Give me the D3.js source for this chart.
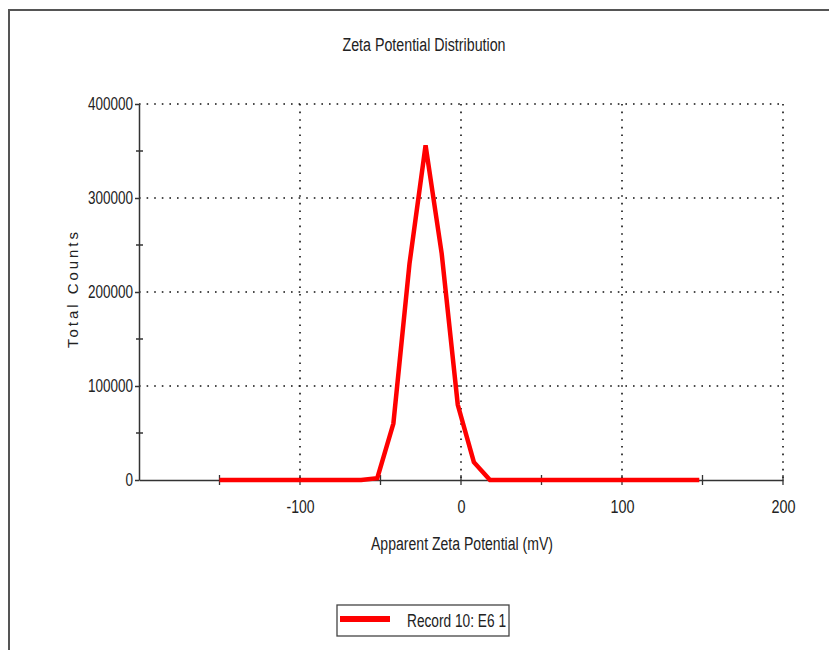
<!DOCTYPE html>
<html>
<head>
<meta charset="utf-8">
<script src="https://cdnjs.cloudflare.com/ajax/libs/d3/7.8.5/d3.min.js"></script>
<style>
  body { margin: 0; background: #fff; }
  svg { display: block; }
  text { font-family: "Liberation Sans", Arial, sans-serif; fill: #222; }
</style>
</head>
<body>
<svg id="chart" width="829" height="650"></svg>
<script>
// data
var potential = [-150, -62, -52, -42, -32, -22, -12, -2, 8, 18, 148];
var counts    = [0, 0, 2000, 60000, 230000, 356000, 241000, 80000, 19000, 0, 0];
var xTicks = [-100, 0, 100, 200];
var xMinor = [-150, -100, -50, 0, 50, 100, 150, 200];
var yTicks = [0, 100000, 200000, 300000, 400000];
var yMinor = [50000, 150000, 250000, 350000];
var seriesName = "Record 10: E6 1";

var svg = d3.select("#chart");
var x = d3.scaleLinear().domain([-200, 200]).range([139, 783]);
var y = d3.scaleLinear().domain([0, 400000]).range([480, 104]);

// the original font is a tall narrow one, squeeze Liberation Sans to fit
function labelWidth(s, digit) {
  var w = 0;
  for (var i = 0; i < s.length; i++) w += s[i] === "-" ? digit * 0.5 : digit;
  return w;
}
function fmt(d) { return String(d); }

// outer frame
svg.append("path")
  .attr("d", "M9,650 V10 H829")
  .attr("fill", "none").attr("stroke", "#555").attr("stroke-width", 2);

// title
svg.append("text").attr("x", 424).attr("y", 51).attr("text-anchor", "middle")
  .attr("font-size", 18).attr("textLength", 163).attr("lengthAdjust", "spacingAndGlyphs")
  .text("Zeta Potential Distribution");

// dotted grid
var grid = svg.append("g").attr("stroke", "#111").attr("stroke-width", 1.6).attr("stroke-dasharray", "1.6,6");
grid.selectAll(".gy").data(yTicks.filter(function(d){ return d > 0; })).enter().append("line")
  .attr("x1", x(-200)).attr("x2", x(200))
  .attr("y1", function(d){ return y(d); }).attr("y2", function(d){ return y(d); });
grid.selectAll(".gx").data(xTicks).enter().append("line")
  .attr("x1", function(d){ return x(d); }).attr("x2", function(d){ return x(d); })
  .attr("y1", y(400000)).attr("y2", y(0));

// y axis
var yAxis = svg.append("g").attr("transform", "translate(" + x(-200) + ",0)")
  .call(d3.axisLeft(y).tickValues(yTicks).tickSize(4).tickSizeOuter(0).tickPadding(2).tickFormat(fmt));
yAxis.select(".domain").attr("stroke", "#333").attr("stroke-width", 1.5);
yAxis.selectAll(".tick line").attr("stroke", "#333").attr("stroke-width", 1.5);
yAxis.selectAll(".tick text").attr("font-size", 18).attr("fill", "#222")
  .attr("textLength", function(d){ return labelWidth(fmt(d), 7.5); })
  .attr("lengthAdjust", "spacingAndGlyphs");
svg.append("g").selectAll("line").data(yMinor).enter().append("line")
  .attr("x1", x(-200) - 3).attr("x2", x(-200) + 4)
  .attr("y1", function(d){ return y(d); }).attr("y2", function(d){ return y(d); })
  .attr("stroke", "#333").attr("stroke-width", 1.5);

// x axis
var xAxis = svg.append("g").attr("transform", "translate(0," + y(0) + ")")
  .call(d3.axisBottom(x).tickValues(xTicks).tickSize(0).tickSizeOuter(0).tickPadding(20).tickFormat(fmt));
xAxis.select(".domain").attr("stroke", "#333").attr("stroke-width", 1.5);
xAxis.selectAll(".tick text").attr("font-size", 18).attr("fill", "#222")
  .attr("textLength", function(d){ return labelWidth(fmt(d), 8); })
  .attr("lengthAdjust", "spacingAndGlyphs");
svg.append("g").selectAll("line").data(xMinor).enter().append("line")
  .attr("x1", function(d){ return x(d); }).attr("x2", function(d){ return x(d); })
  .attr("y1", y(0) - 5).attr("y2", y(0) + 5)
  .attr("stroke", "#333").attr("stroke-width", 1.3);

// axis titles
svg.append("text").attr("x", 462).attr("y", 550).attr("text-anchor", "middle")
  .attr("font-size", 18).attr("textLength", 182).attr("lengthAdjust", "spacingAndGlyphs")
  .text("Apparent Zeta Potential (mV)");
svg.append("text").attr("transform", "translate(78,290) rotate(-90)").attr("text-anchor", "middle")
  .attr("font-size", 15).attr("textLength", 116).attr("lengthAdjust", "spacing")
  .text("Total Counts");

// series
var line = d3.line().x(function(d){ return x(d[0]); }).y(function(d){ return y(d[1]); });
svg.append("path").datum(d3.zip(potential, counts))
  .attr("d", line).attr("fill", "none").attr("stroke", "#ff0000")
  .attr("stroke-width", 4.5).attr("stroke-linejoin", "miter");

// legend
var lg = svg.append("g");
lg.append("rect").attr("x", 337).attr("y", 605).attr("width", 172).attr("height", 31)
  .attr("fill", "#fff").attr("stroke", "#444").attr("stroke-width", 1.3);
lg.append("line").attr("x1", 340).attr("x2", 390).attr("y1", 619).attr("y2", 619)
  .attr("stroke", "#ff0000").attr("stroke-width", 6);
lg.append("text").attr("x", 506).attr("y", 627).attr("text-anchor", "end")
  .attr("font-size", 18).attr("textLength", 99).attr("lengthAdjust", "spacingAndGlyphs")
  .text(seriesName);
</script>
</body>
</html>
